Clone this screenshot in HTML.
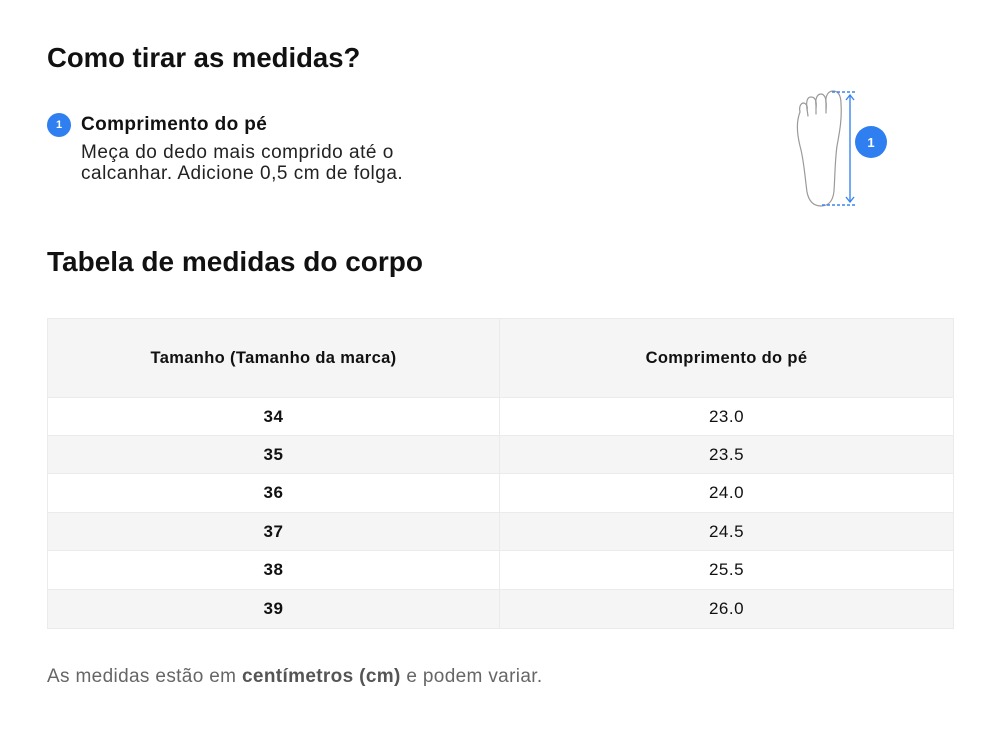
<!DOCTYPE html>
<html>
<head>
<meta charset="utf-8">
<style>
  html, body { margin:0; padding:0; background:#fff; }
  body { width:1000px; height:735px; position:relative; overflow:hidden; font-family:"Liberation Sans", Arial, sans-serif; color:#111; }
  .abs { position:absolute; white-space:nowrap; }
  .h1 { font-size:28px; font-weight:bold; line-height:32px; color:#111; }
  .badge { position:absolute; width:24px; height:24px; border-radius:50%; background:#2f7ff0; color:#fff; font-size:11px; font-weight:bold; text-align:center; line-height:24px; }
  .sub { font-size:19px; font-weight:bold; line-height:22px; letter-spacing:0.4px; color:#111; }
  .desc { font-size:19px; line-height:21px; letter-spacing:0.5px; color:#222; }
  table { position:absolute; left:47px; top:318px; width:906px; border-collapse:collapse; table-layout:fixed; }
  td, th { border:1px solid #ebebeb; text-align:center; padding:0; vertical-align:middle; }
  th { background:#f5f5f5; height:78px; font-size:16.5px; font-weight:bold; letter-spacing:0.35px; color:#111; }
  td { font-size:17px; letter-spacing:0.5px; color:#111; }
  td.b { font-weight:bold; }
  tr.g td { background:#f5f5f5; }
  .foot { font-size:19px; line-height:22px; letter-spacing:0.35px; color:#666; }
  .foot b { color:#555; }
</style>
</head>
<body>
  <div class="abs h1" style="left:47px; top:42px; font-size:27.5px;">Como tirar as medidas?</div>

  <div class="badge" style="left:47px; top:113px;">1</div>
  <div class="abs sub" style="left:81px; top:114px;">Comprimento do pé</div>
  <div class="abs desc" style="left:81px; top:142px;">Meça do dedo mais comprido até o<br>calcanhar. Adicione 0,5 cm de folga.</div>

  <svg class="abs" style="left:0; top:0;" width="1000" height="240" viewBox="0 0 1000 240">
    <g fill="none" stroke="#9a9a9a" stroke-width="1.2" stroke-linejoin="round" stroke-linecap="round">
      <path d="M 800 112 C 796 122 797 134 800 146 C 804 160 805 178 807 192 C 809 202 814 206 821 206 C 829 206 833 201 834 191 C 835 176 835 160 837 146 C 840 130 842 118 841 104"/>
      <path d="M 841 104 C 841 95 838 91 833 91 C 828 91 825 96 826 104 L 826 113"/>
      <path d="M 826 110 C 827 100 825 94 821 94 C 817 94 815 99 816 106 L 816 114"/>
      <path d="M 816 108 C 817 101 815 97 811 97 C 807 97 806 102 807 109 L 808 116"/>
      <path d="M 807 110 C 808 106 806 103 803 103 C 800 104 799 108 800 112"/>
    </g>
    <g stroke="#3b86f0" stroke-width="1.4" fill="none">
      <line x1="832" y1="92" x2="857" y2="92" stroke-dasharray="3,2"/>
      <line x1="822" y1="205" x2="857" y2="205" stroke-dasharray="3,2"/>
      <line x1="850" y1="95" x2="850" y2="202"/>
      <polyline points="846,100 850,95 854,100"/>
      <polyline points="846,197 850,202 854,197"/>
    </g>
    <circle cx="871" cy="142" r="16" fill="#2f7ff0"/>
    <text x="871" y="147" font-family="Liberation Sans, Arial, sans-serif" font-size="13" font-weight="bold" fill="#fff" text-anchor="middle">1</text>
  </svg>

  <div class="abs h1" style="left:47px; top:246px;">Tabela de medidas do corpo</div>

  <table>
    <colgroup><col style="width:452px"><col style="width:454px"></colgroup>
    <tr><th>Tamanho (Tamanho da marca)</th><th>Comprimento do pé</th></tr>
    <tr style="height:38px"><td class="b">34</td><td>23.0</td></tr>
    <tr class="g" style="height:38px"><td class="b">35</td><td>23.5</td></tr>
    <tr style="height:39px"><td class="b">36</td><td>24.0</td></tr>
    <tr class="g" style="height:38px"><td class="b">37</td><td>24.5</td></tr>
    <tr style="height:39px"><td class="b">38</td><td>25.5</td></tr>
    <tr class="g" style="height:39px"><td class="b">39</td><td>26.0</td></tr>
  </table>

  <div class="abs foot" style="left:47px; top:666px;">As medidas estão em <b>centímetros (cm)</b> e podem variar.</div>
</body>
</html>
